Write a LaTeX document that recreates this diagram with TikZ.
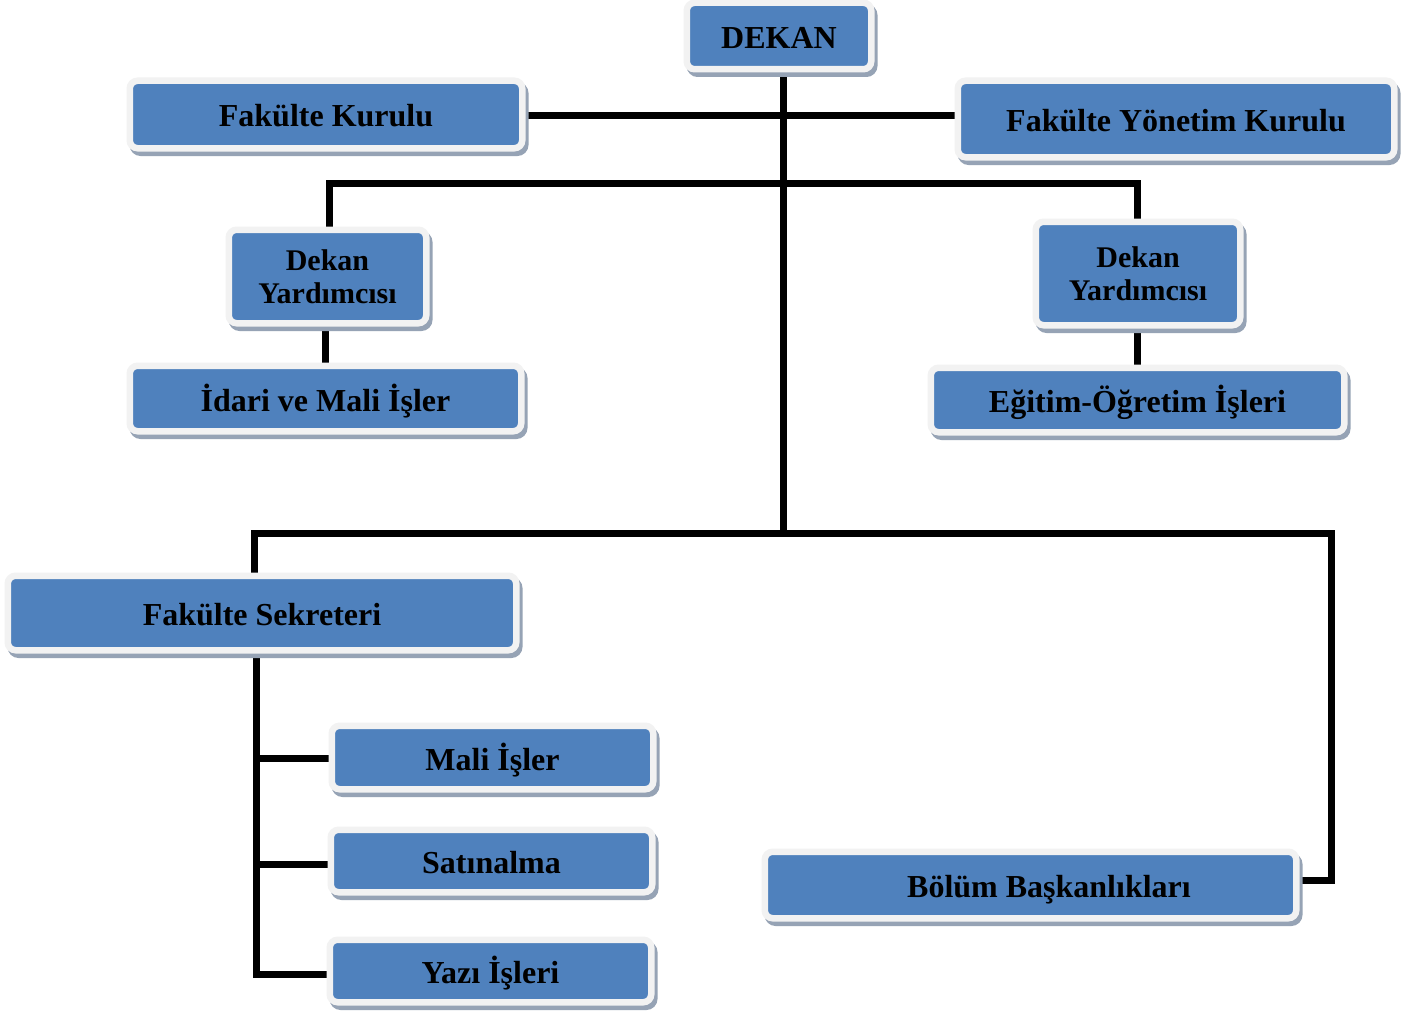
\documentclass[tikz,border=0pt]{standalone}
\usepackage{fontspec}
\setmainfont{Liberation Serif}
\usetikzlibrary{shadows,backgrounds}
\definecolor{boxblue}{HTML}{4F81BD}
\definecolor{framegrey}{HTML}{F2F2F2}
\definecolor{shadowc}{HTML}{96A3B5}
\tikzset{
  orgbox/.style={rectangle, rounded corners=8pt, fill=boxblue, draw=framegrey,
    line width=6.5pt, inner sep=0pt, align=center,
    font=\bfseries\fontsize{32}{34}\selectfont,
    general shadow={shadow xshift=3pt, shadow yshift=-4.5pt, fill=shadowc,
      draw=shadowc, line width=6.5pt}},
  oneline/.style={text height=25pt, text depth=0pt},
  twoline/.style={font=\bfseries\fontsize{30}{33}\selectfont},
  link/.style={line width=7pt, black, line join=miter}
}
\begin{document}
\begin{tikzpicture}[x=1pt,y=-1pt]
\useasboundingbox (0,0) rectangle (1404,1014);

\node[orgbox, oneline, minimum width=184.5pt, minimum height=66.5pt] (dekan) at (779,36) {DEKAN};
\node[orgbox, oneline, minimum width=392.5pt, minimum height=67.5pt] (fk) at (326,114.5) {Fakülte Kurulu};
\node[orgbox, oneline, minimum width=436.5pt, minimum height=76.5pt] (fyk) at (1176,119) {Fakülte Yönetim Kurulu};
\node[orgbox, twoline, minimum width=197.5pt, minimum height=93.5pt] (dyl) at (327.5,276.5) {Dekan\\Yardımcısı};
\node[orgbox, twoline, minimum width=204.5pt, minimum height=103.5pt] (dyr) at (1138,273.5) {Dekan\\Yardımcısı};
\node[orgbox, oneline, minimum width=391.5pt, minimum height=65.5pt] (idari) at (325.5,398.5) {İdari ve Mali İşler};
\node[orgbox, oneline, minimum width=413.5pt, minimum height=64.5pt] (egitim) at (1137.5,400) {Eğitim-Öğretim İşleri};
\node[orgbox, oneline, minimum width=508.5pt, minimum height=74.5pt] (fs) at (262,613) {Fakülte Sekreteri};
\node[orgbox, oneline, minimum width=321.5pt, minimum height=63.5pt] (mali) at (492.5,757.5) {Mali İşler};
\node[orgbox, oneline, minimum width=321.5pt, minimum height=62.5pt] (sat) at (491.5,861) {Satınalma};
\node[orgbox, oneline, minimum width=321.5pt, minimum height=62.5pt] (yazi) at (490.5,971) {Yazı İşleri};
\node[orgbox, oneline, minimum width=531.5pt, minimum height=66.5pt] (bolum) at (1030.5,885) {\hspace*{37pt}Bölüm Başkanlıkları};

\coordinate (j1) at (783,115.5);
\coordinate (j2) at (783,183.5);
\coordinate (j3) at (783,533);
\coordinate (j4) at (1331,533);
\coordinate (j5) at (254.5,533);
\coordinate (j6) at (1331,880);
\coordinate (k1) at (256.7,758);
\coordinate (k2) at (256.7,864.5);
\coordinate (k3) at (256.7,974);

\begin{scope}[on background layer]
\fill[white] (0,0) rectangle (1404,1014);
\draw[link] (dekan.south -| j3) -- (j3);
\draw[link] (fk.east |- j1) -- (fyk.west |- j1);
\draw[link] (dyl.north -| 329,0) -- (329,183.5) -- (1137,183.5) -- (dyr.north -| 1137,0);
\draw[link] (dyl.south -| idari.north) -- (idari.north);
\draw[link] (dyr.south -| 1137,0) -- (egitim.north -| 1137,0);
\draw[link] (fs.north -| j5) -- (j5) -- (j4) -- (j6) -- (bolum.east |- j6);
\draw[link] (fs.south -| k3) -- (k3) -- (yazi.west |- k3);
\draw[link] (k1) -- (mali.west |- k1);
\draw[link] (k2) -- (sat.west |- k2);
\end{scope}
\end{tikzpicture}
\end{document}
